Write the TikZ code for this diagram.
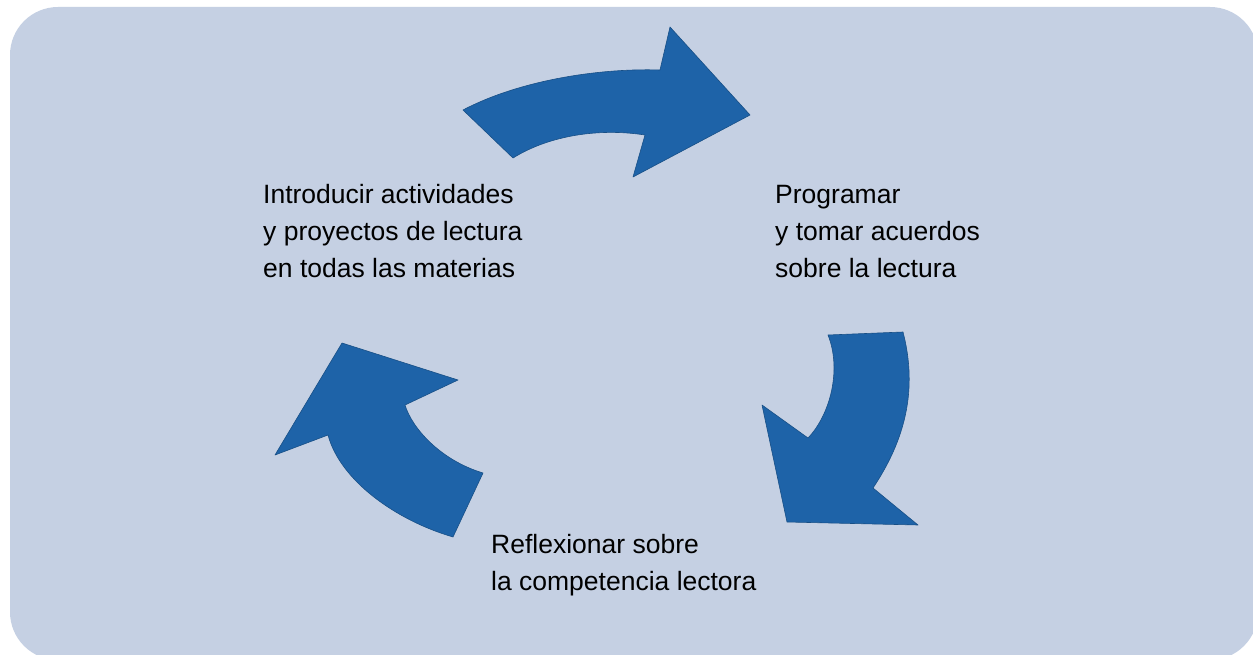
\documentclass[tikz,border=0pt]{standalone}
\usepackage{fontspec}
\setmainfont{Liberation Sans}
\definecolor{bgblue}{RGB}{197,208,227}
\definecolor{arrowblue}{RGB}{30,99,168}
\begin{document}
\begin{tikzpicture}[x=1pt,y=-1pt,
  arrowshape/.style={fill=arrowblue,draw=arrowblue!80!black,line width=0.6pt,line join=round},
  label/.style={anchor=base west,inner sep=0pt,align=left,font=\fontsize{26.5}{37}\selectfont,text=black}]
\useasboundingbox (0,0) rectangle (1253,655);
\fill[white] (0,0) rectangle (1253,655);
\fill[bgblue,rounded corners=48pt] (10,7) rectangle (1258,660);
% top arrow
\path[arrowshape] (463,110) .. controls (520,80) and (600,68) .. (660,70)
  -- (670,27) -- (750,115) -- (633,177) -- (645,135)
  .. controls (600,128) and (550,135) .. (513,158) -- cycle;
% right arrow
\path[arrowshape] (828,335) -- (903,332) .. controls (918,390) and (905,440) .. (873,488)
  -- (918,525) -- (787,522) -- (762,405) -- (808,438)
  .. controls (830,415) and (842,370) .. (828,335) -- cycle;
% left arrow
\path[arrowshape] (342,343) -- (458,380) -- (405,405)
  .. controls (412,428) and (440,460) .. (483,473) -- (453,537)
  .. controls (395,520) and (340,480) .. (328,435) -- (275,455) -- cycle;
\node[label] (intro) at (263,277) {Introducir actividades\\y proyectos de lectura\\en todas las materias};
\node[label] (prog) at (775,277) {Programar\\y tomar acuerdos\\sobre la lectura};
\node[label] (refl) at (491,590) {Reflexionar sobre\\la competencia lectora};
\end{tikzpicture}
\end{document}
